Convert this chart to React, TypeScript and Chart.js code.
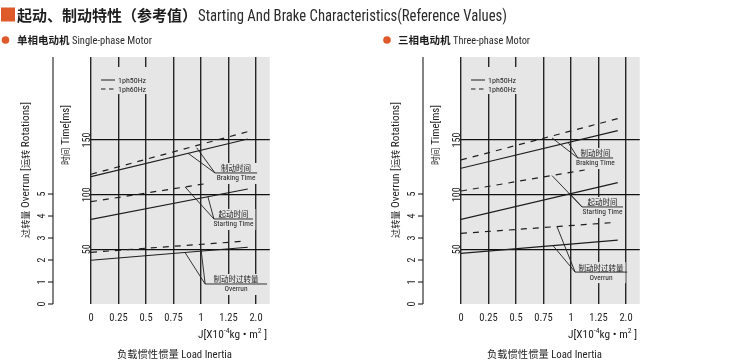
import React, { useEffect, useRef } from 'react';
import { Chart, registerables } from 'chart.js';

Chart.register(...registerables);

// ---------------- data ----------------
const xTickLabels = ['0', '0.25', '0.5', '0.75', '1', '1.25', '2.0'];
const timeTickValues = [50, 100, 150];
const overrunTickValues = [0, 1, 2, 3, 4, 5];
const legendLabels = ['1ph50Hz', '1ph60Hz'];
const calloutLabels = [
  ['制动时间', 'Braking Time'],
  ['起动时间', 'Starting Time'],
  ['制动时过转量', 'Overrun'],
];

// x values are positions on the load-inertia axis, in tick slots (0 = "0", 6 = "2.0")
const lineX = [0, 5.7];
const spStart60X = [0, 4.1];
const tpStart60X = [0, 4.5];
const over60X = [0, 5.5];

// Single-phase motor: time [ms] / overrun [rotations]
const spBrake50 = [116.5, 151.0];
const spBrake60 = [118.7, 157.7];
const spStart50 = [77.5, 105.2];
const spStart60 = [93.6, 109.8];
const spOver50 = [1.99, 2.58];
const spOver60 = [2.35, 2.85];

// Three-phase motor
const tpBrake50 = [124.2, 158.6];
const tpBrake60 = [131.8, 169.6];
const tpStart50 = [77.5, 111.0];
const tpStart60 = [103.4, 122.6];
const tpOver50 = [2.3, 2.9];
const tpOver60 = [3.21, 3.7];

// ---------------- styling ----------------
const W = 741;
const H = 362;
const NARROW = "'Liberation Sans Narrow', 'Roboto Condensed', 'Liberation Sans', Arial, sans-serif";
const CJK = "'Noto Sans CJK SC', 'Noto Sans', sans-serif";
const INK = '#1e1e1e';
const PLOT_BG = '#e6e6e6';
const ORANGE = '#df5a2a';
const X_MAX = 6.5;
const PLOT_W = 178.75;
const TIME_MAX = 226;
const OVER_MAX = 11.23;

type AxisId = 'yTime' | 'yOver';
type Run = { text: string; font: string; dy?: number };
type Series = { x: number[]; y: number[]; axis: AxisId; dashed: boolean; label: string };
type Callout = { axis: AxisId; at: [number, number]; endX: number; targets: [number, number][] };
type Panel = {
  key: string;
  left: number;
  series: Series[];
  callouts: Callout[];
  subCn: string;
  subEn: string;
  subDotX: number;
  subCnX: number;
  subEnW: number;
  showTitle: boolean;
};

const panels: Panel[] = [
  {
    key: 'single',
    left: 91,
    series: [
      { x: lineX, y: spBrake50, axis: 'yTime', dashed: false, label: '1ph50Hz braking' },
      { x: lineX, y: spBrake60, axis: 'yTime', dashed: true, label: '1ph60Hz braking' },
      { x: lineX, y: spStart50, axis: 'yTime', dashed: false, label: '1ph50Hz starting' },
      { x: spStart60X, y: spStart60, axis: 'yTime', dashed: true, label: '1ph60Hz starting' },
      { x: lineX, y: spOver50, axis: 'yOver', dashed: false, label: '1ph50Hz overrun' },
      { x: over60X, y: spOver60, axis: 'yOver', dashed: true, label: '1ph60Hz overrun' },
    ],
    callouts: [
      { axis: 'yTime', at: [4.51, 119.9], endX: 6.04, targets: [[3.53, 137.9], [3.84, 143]] },
      { axis: 'yTime', at: [4.47, 77.8], endX: 5.89, targets: [[3.42, 107.1], [4.25, 98.2]] },
      { axis: 'yOver', at: [4.15, 0.91], endX: 6.4, targets: [[3.42, 2.34], [4.0, 2.5]] },
    ],
    subCn: '单相电动机',
    subEn: 'Single-phase Motor',
    subDotX: 5.5,
    subCnX: 17,
    subEnW: 80,
    showTitle: true,
  },
  {
    key: 'three',
    left: 461,
    series: [
      { x: lineX, y: tpBrake50, axis: 'yTime', dashed: false, label: '1ph50Hz braking' },
      { x: lineX, y: tpBrake60, axis: 'yTime', dashed: true, label: '1ph60Hz braking' },
      { x: lineX, y: tpStart50, axis: 'yTime', dashed: false, label: '1ph50Hz starting' },
      { x: tpStart60X, y: tpStart60, axis: 'yTime', dashed: true, label: '1ph60Hz starting' },
      { x: lineX, y: tpOver50, axis: 'yOver', dashed: false, label: '1ph50Hz overrun' },
      { x: over60X, y: tpOver60, axis: 'yOver', dashed: true, label: '1ph60Hz overrun' },
    ],
    callouts: [
      { axis: 'yTime', at: [4.25, 133.6], endX: 5.53, targets: [[3.31, 152], [3.9, 147.7]] },
      { axis: 'yTime', at: [4.4, 88.8], endX: 5.89, targets: [[3.31, 117.5], [3.96, 100.8]] },
      { axis: 'yOver', at: [4.15, 1.45], endX: 6.04, targets: [[3.35, 2.65], [3.49, 3.52]] },
    ],
    subCn: '三相电动机',
    subEn: 'Three-phase Motor',
    subDotX: 387,
    subCnX: 398,
    subEnW: 77,
    showTitle: false,
  },
];

// ---------------- text helpers ----------------
function drawRuns(
  ctx: CanvasRenderingContext2D,
  runs: Run[],
  x: number,
  y: number,
  align: 'left' | 'center' | 'right' = 'left',
  fit?: number,
  color: string = INK,
): number {
  ctx.save();
  ctx.textAlign = 'left';
  ctx.textBaseline = 'alphabetic';
  const widths = runs.map((r) => {
    ctx.font = r.font;
    return ctx.measureText(r.text).width;
  });
  const total = widths.reduce((s, w) => s + w, 0);
  const k = fit ? fit / total : 1;
  const w = total * k;
  const x0 = align === 'left' ? x : align === 'center' ? x - w / 2 : x - w;
  ctx.translate(x0, y);
  ctx.scale(k, 1);
  let cx = 0;
  runs.forEach((r, i) => {
    ctx.font = r.font;
    ctx.fillStyle = color;
    ctx.fillText(r.text, cx, r.dy || 0);
    cx += widths[i];
  });
  ctx.restore();
  return w;
}

function drawRotated(
  ctx: CanvasRenderingContext2D,
  runs: Run[],
  cx: number,
  cy: number,
  baseOffset: number,
  fit?: number,
) {
  ctx.save();
  ctx.translate(cx, cy);
  ctx.rotate(-Math.PI / 2);
  drawRuns(ctx, runs, 0, baseOffset, 'center', fit);
  ctx.restore();
}

function line(ctx: CanvasRenderingContext2D, x1: number, y1: number, x2: number, y2: number) {
  ctx.beginPath();
  ctx.moveTo(x1, y1);
  ctx.lineTo(x2, y2);
  ctx.stroke();
}

// ---------------- plugin ----------------
function makePlugin(p: Panel) {
  return {
    id: 'panel_' + p.key,
    beforeDraw(chart: any) {
      const { ctx, chartArea: a } = chart;
      ctx.save();
      ctx.fillStyle = PLOT_BG;
      ctx.fillRect(a.left, a.top, a.right - a.left, a.bottom - a.top);
      ctx.restore();
    },
    afterDatasetsDraw(chart: any) {
      const { ctx, chartArea: a, scales } = chart;
      const xs = scales.x;
      ctx.save();
      // legend
      const L = a.left;
      const ly1 = a.top + 23;
      const ly2 = a.top + 32;
      ctx.fillStyle = PLOT_BG;
      ctx.fillRect(L + 7, a.top + 10, 50, 27);
      ctx.strokeStyle = INK;
      ctx.lineWidth = 1;
      line(ctx, L + 10, ly1, L + 24, ly1);
      ctx.setLineDash([4.5, 3.5]);
      line(ctx, L + 10, ly2, L + 24, ly2);
      ctx.setLineDash([]);
      drawRuns(ctx, [{ text: legendLabels[0], font: `8px ${NARROW}` }], L + 27, ly1 + 3);
      drawRuns(ctx, [{ text: legendLabels[1], font: `8px ${NARROW}` }], L + 27, ly2 + 3);

      // callouts
      p.callouts.forEach((c, i) => {
        const ys = scales[c.axis];
        const ax = xs.getPixelForValue(c.at[0]);
        const ay = ys.getPixelForValue(c.at[1]);
        const ex = xs.getPixelForValue(c.endX);
        const [cn, en] = calloutLabels[i];
        ctx.font = `7.5px ${CJK}`;
        const wcn = ctx.measureText(cn).width;
        ctx.font = `7.5px ${NARROW}`;
        const wen = ctx.measureText(en).width;
        const cx = (ax + ex) / 2;
        const bw = Math.max(wcn, wen) + 4;
        ctx.fillStyle = PLOT_BG;
        ctx.fillRect(cx - bw / 2, ay - 10, bw, 21);
        ctx.strokeStyle = INK;
        ctx.lineWidth = 0.9;
        c.targets.forEach((t) => {
          line(ctx, ax, ay, xs.getPixelForValue(t[0]), ys.getPixelForValue(t[1]));
        });
        line(ctx, ax, ay, ex, ay);
        drawRuns(ctx, [{ text: cn, font: `7.5px ${CJK}` }], cx, ay - 1.5, 'center');
        drawRuns(ctx, [{ text: en, font: `7.5px ${NARROW}` }], cx, ay + 7.5, 'center');
      });
      ctx.restore();
    },
    afterDraw(chart: any) {
      const { ctx, chartArea: a, scales } = chart;
      const yt = scales.yTime;
      const yo = scales.yOver;
      ctx.save();
      ctx.strokeStyle = INK;
      ctx.lineWidth = 1;

      // time tick labels (rotated)
      timeTickValues.forEach((v) => {
        drawRotated(ctx, [{ text: String(v), font: `10px ${NARROW}` }], a.left - 5, yt.getPixelForValue(v), 3.6);
      });

      // overrun axis
      const axX = a.left - 38;
      ctx.lineWidth = 1.1;
      line(ctx, axX, a.top, axX, yo.getPixelForValue(0));
      overrunTickValues.forEach((v) => {
        const y = yo.getPixelForValue(v);
        line(ctx, axX - 5, y, axX, y);
        drawRotated(ctx, [{ text: String(v), font: `10px ${NARROW}` }], axX - 11.5, y, 3.6);
      });

      // axis titles
      drawRotated(
        ctx,
        [
          { text: '时间', font: `9px ${CJK}` },
          { text: ' Time[ms]', font: `11px ${NARROW}` },
        ],
        a.left - 26,
        135,
        4,
        60,
      );
      drawRotated(
        ctx,
        [
          { text: '过转量', font: `9px ${CJK}` },
          { text: ' Overrun [', font: `11px ${NARROW}` },
          { text: '运转', font: `9px ${CJK}` },
          { text: ' Rotations]', font: `11px ${NARROW}` },
        ],
        a.left - 66,
        170,
        4,
        136,
      );

      // x unit + x title
      drawRuns(
        ctx,
        [
          { text: 'J[X10', font: `11px ${NARROW}` },
          { text: '-4', font: `7.5px ${NARROW}`, dy: -5 },
          { text: 'kg • m', font: `11px ${NARROW}` },
          { text: '2', font: `7.5px ${NARROW}`, dy: -5 },
          { text: ' ]', font: `11px ${NARROW}` },
        ],
        a.left + 176,
        338,
        'right',
        69,
      );
      drawRuns(
        ctx,
        [
          { text: '负载惯性惯量', font: `10.5px ${CJK}` },
          { text: ' Load Inertia', font: `11px ${NARROW}` },
        ],
        a.left + 83.5,
        358,
        'center',
        115,
      );

      // subtitle
      ctx.fillStyle = ORANGE;
      ctx.beginPath();
      ctx.arc(p.subDotX, 40, 3.8, 0, Math.PI * 2);
      ctx.fill();
      const wcn = drawRuns(ctx, [{ text: p.subCn, font: `bold 10.5px ${CJK}` }], p.subCnX, 44.3);
      drawRuns(ctx, [{ text: p.subEn, font: `11px ${NARROW}` }], p.subCnX + wcn + 2.5, 44.3, 'left', p.subEnW, '#2a2a2a');

      // main title
      if (p.showTitle) {
        ctx.fillStyle = ORANGE;
        ctx.fillRect(1, 7.5, 14, 14);
        const tw = drawRuns(ctx, [{ text: '起动、制动特性（参考值）', font: `bold 15px ${CJK}` }], 17, 21);
        drawRuns(
          ctx,
          [{ text: 'Starting And Brake Characteristics(Reference Values)', font: `16px ${NARROW}` }],
          17 + tw + 1,
          21,
          'left',
          309,
          '#2a2a2a',
        );
      }
      ctx.restore();
    },
  };
}

function buildChart(canvas: HTMLCanvasElement, p: Panel) {
  return new Chart(canvas, {
    type: 'line',
    data: {
      datasets: p.series.map((s) => ({
        label: s.label,
        data: s.x.map((x, j) => ({ x, y: s.y[j] })),
        yAxisID: s.axis,
        borderColor: INK,
        borderWidth: 1.2,
        borderDash: s.dashed ? [6, 6] : [],
        pointRadius: 0,
        fill: false,
        tension: 0,
      })),
    },
    options: {
      animation: false,
      responsive: false,
      events: [],
      layout: { padding: { left: p.left, right: W - p.left - PLOT_W, top: 57, bottom: 0 } },
      plugins: { legend: { display: false }, tooltip: { enabled: false } },
      scales: {
        x: {
          type: 'linear',
          min: 0,
          max: X_MAX,
          afterBuildTicks: (s: any) => {
            s.ticks = xTickLabels.map((_, i) => ({ value: i }));
          },
          ticks: {
            callback: (_v: any, i: number) => xTickLabels[i],
            font: { family: NARROW, size: 10.5 },
            color: INK,
            padding: 8,
            maxRotation: 0,
            autoSkip: false,
          },
          grid: { color: '#262626', lineWidth: 1.4, drawTicks: false },
          border: { display: false },
          afterFit: (s: any) => {
            s.height = H - 304;
          },
        },
        yTime: {
          type: 'linear',
          position: 'left',
          min: 0,
          max: TIME_MAX,
          afterBuildTicks: (s: any) => {
            s.ticks = timeTickValues.map((v) => ({ value: v }));
          },
          ticks: { display: false },
          grid: { color: '#111111', lineWidth: 1.2, drawTicks: false },
          border: { display: false },
          afterFit: (s: any) => {
            s.width = 0;
          },
        },
        yOver: { type: 'linear', display: false, min: 0, max: OVER_MAX },
      },
    } as any,
    plugins: [makePlugin(p)],
  });
}

export default function App() {
  const ref1 = useRef<HTMLCanvasElement>(null);
  const ref2 = useRef<HTMLCanvasElement>(null);
  useEffect(() => {
    const charts = [buildChart(ref1.current!, panels[0]), buildChart(ref2.current!, panels[1])];
    return () => charts.forEach((c) => c.destroy());
  }, []);
  return (
    <div style={{ position: 'absolute', left: 0, top: 0, width: W, height: H, background: '#fff' }}>
      <canvas ref={ref1} width={W} height={H} style={{ position: 'absolute', left: 0, top: 0 }} />
      <canvas ref={ref2} width={W} height={H} style={{ position: 'absolute', left: 0, top: 0 }} />
    </div>
  );
}
